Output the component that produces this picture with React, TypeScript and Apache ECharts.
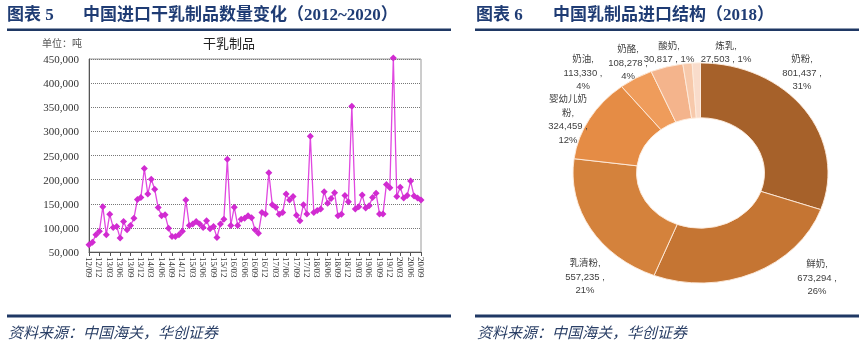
import React, { useEffect, useRef } from 'react';
import * as echarts from 'echarts';

// ---------- Data: left chart (monthly imports of dry dairy products, tonnes) ----------
const months = [
  '12/09', '12/10', '12/11', '12/12',
  '13/01', '13/02', '13/03', '13/04', '13/05', '13/06', '13/07', '13/08', '13/09', '13/10', '13/11', '13/12',
  '14/01', '14/02', '14/03', '14/04', '14/05', '14/06', '14/07', '14/08', '14/09', '14/10', '14/11', '14/12',
  '15/01', '15/02', '15/03', '15/04', '15/05', '15/06', '15/07', '15/08', '15/09', '15/10', '15/11', '15/12',
  '16/01', '16/02', '16/03', '16/04', '16/05', '16/06', '16/07', '16/08', '16/09', '16/10', '16/11', '16/12',
  '17/01', '17/02', '17/03', '17/04', '17/05', '17/06', '17/07', '17/08', '17/09', '17/10', '17/11', '17/12',
  '18/01', '18/02', '18/03', '18/04', '18/05', '18/06', '18/07', '18/08', '18/09', '18/10', '18/11', '18/12',
  '19/01', '19/02', '19/03', '19/04', '19/05', '19/06', '19/07', '19/08', '19/09', '19/10', '19/11', '19/12',
  '20/01', '20/02', '20/03', '20/04', '20/05', '20/06', '20/07', '20/08', '20/09',
];

const dryDairyTonnes = [
  65000, 70000, 86000, 93000,
  144000, 86000, 128000, 101000, 103000, 79000, 113000, 96000, 105000, 120000, 159000, 163000,
  223000, 170000, 201000, 180000, 142000, 125000, 127000, 99000, 82000, 82000, 86000, 93000,
  158000, 105000, 108000, 113000, 108000, 101000, 115000, 98000, 103000, 80000, 108000, 118000,
  242000, 105000, 143000, 105000, 118000, 120000, 125000, 121000, 96000, 89000, 132000, 129000,
  214000, 148000, 143000, 128000, 132000, 170000, 158000, 165000, 126000, 115000, 148000, 129000,
  290000, 132000, 136000, 139000, 175000, 151000, 161000, 173000, 125000, 128000, 167000, 154000,
  352000, 139000, 144000, 168000, 141000, 146000, 163000, 172000, 129000, 129000, 190000, 183000,
  452000, 165000, 184000, 162000, 167000, 197000, 166000, 162000, 158000,
];

const yMin = 50000;
const yMax = 450000;
const yStep = 50000;

// ---------- Data: right chart (2018 dairy import structure) ----------
const pieNames = ['奶粉', '鲜奶', '乳清粉', '婴幼儿奶粉', '奶油', '奶酪', '酸奶', '炼乳'];
const pieValues = [801437, 673294, 557235, 324459, 113330, 108278, 30817, 27503];
const pieShares = [31, 26, 21, 12, 4, 4, 1, 1];

const pieColors = ['#A6612A', '#C57533', '#D4823C', '#E58C45', '#EF9C5B', '#F4B48C', '#F7C9AB', '#F9DCCB'];
// label block centres (layout only)
const pieLabelPos: [number, number][] = [
  [802, 72], [817, 277], [585, 276], [568, 119], [583, 72], [628, 62], [669, 52], [726, 52],
];

// the reference donut is drawn slightly squashed vertically
const PIE_SY = 0.863;
const PIE_CX = 700.5;
const PIE_CY = 173;

const CJK = '"Noto Sans CJK SC", sans-serif';
const LABEL_FONT = '"Liberation Sans Narrow", "Liberation Sans", "Noto Sans CJK SC", sans-serif';
const SERIF = '"Liberation Serif", "Noto Sans CJK SC", serif';
const NAVY = '#1F3864';

function fmt(n: number) {
  return n.toLocaleString('en-US');
}

function pieLabelText(i: number) {
  const v = fmt(pieValues[i]);
  const s = pieShares[i];
  if (i === 3) return `婴幼儿奶\n粉,\n${v} ,\n${s}%`;
  if (i >= 6) return `${pieNames[i]},\n${v} , ${s}%`;
  return `${pieNames[i]},\n${v} ,\n${s}%`;
}

export default function App() {
  const ref = useRef<HTMLDivElement>(null);
  const pieRef = useRef<HTMLDivElement>(null);

  useEffect(() => {
    if (!ref.current || !pieRef.current) return;
    const chart = echarts.init(ref.current, undefined, { renderer: 'svg' });
    const pie = echarts.init(pieRef.current, undefined, { renderer: 'svg' });

    pie.setOption({
      animation: false,
      series: [
        {
          type: 'pie',
          center: [PIE_CX, PIE_CY / PIE_SY],
          radius: [64, 127.5],
          startAngle: 90,
          clockwise: true,
          itemStyle: { borderColor: '#FDEBDC', borderWidth: 1 },
          emphasis: { disabled: true },
          label: { show: false },
          labelLine: { show: false },
          data: pieNames.map((n, i) => ({
            name: n,
            value: pieValues[i],
            itemStyle: { color: pieColors[i] },
          })),
        },
      ],
    });

    const labelGraphics = pieNames.map((_, i) => ({
      type: 'text',
      x: pieLabelPos[i][0],
      y: pieLabelPos[i][1],
      style: {
        text: pieLabelText(i),
        fontSize: 9.5,
        lineHeight: 13.5,
        fontFamily: LABEL_FONT,
        fill: '#404040',
        align: 'center',
        verticalAlign: 'middle',
      },
    }));

    const option: any = {
      animation: false,
      backgroundColor: 'transparent',
      grid: {
        left: 89,
        right: 859 - 421,
        top: 59,
        bottom: 352 - 252,
        show: true,
        borderColor: '#9a9a9a',
        borderWidth: 1,
      },
      xAxis: {
        type: 'category',
        data: months,
        boundaryGap: false,
        axisLine: { lineStyle: { color: '#555' } },
        axisTick: { interval: 2, length: 4, lineStyle: { color: '#555' } },
        axisLabel: {
          interval: 2,
          rotate: -90,
          fontSize: 9,
          fontFamily: SERIF,
          color: '#333',
          margin: 5,
        },
      },
      yAxis: {
        type: 'value',
        min: yMin,
        max: yMax,
        interval: yStep,
        axisLine: { show: true, lineStyle: { color: '#555' } },
        axisTick: { show: false },
        splitLine: { lineStyle: { type: 'dotted', color: '#777', width: 1 } },
        axisLabel: {
          formatter: (v: number) => fmt(v),
          fontSize: 11,
          fontFamily: SERIF,
          color: '#333',
          margin: 10,
        },
      },
      series: [
        {
          type: 'line',
          data: dryDairyTonnes,
          clip: false,
          symbol: 'diamond',
          symbolSize: 7,
          showAllSymbol: true,
          itemStyle: { color: '#D12BD1' },
          lineStyle: { color: '#E048E0', width: 1.3 },
        },
      ],
      graphic: [
        // left header
        {
          type: 'text', left: 7, top: 6,
          style: { text: '图表 5', fontSize: 17, fontWeight: 'bold', fontFamily: SERIF, fill: '#1F3C74' },
        },
        {
          type: 'text', left: 83, top: 6,
          style: { text: '中国进口干乳制品数量变化（2012~2020）', fontSize: 17, fontWeight: 'bold', fontFamily: SERIF, fill: '#1F3C74' },
        },
        { type: 'rect', shape: { x: 7, y: 28.5, width: 444, height: 2.5 }, style: { fill: NAVY } },
        // right header
        {
          type: 'text', left: 476, top: 6,
          style: { text: '图表 6', fontSize: 17, fontWeight: 'bold', fontFamily: SERIF, fill: '#1F3C74' },
        },
        {
          type: 'text', left: 553, top: 6,
          style: { text: '中国乳制品进口结构（2018）', fontSize: 17, fontWeight: 'bold', fontFamily: SERIF, fill: '#1F3C74' },
        },
        { type: 'rect', shape: { x: 475, y: 28.5, width: 384, height: 2.5 }, style: { fill: NAVY } },
        // left chart inner titles
        {
          type: 'text', x: 42, y: 42,
          style: { text: '单位：吨', fontSize: 10, fontFamily: CJK, fill: '#555', verticalAlign: 'middle' },
        },
        {
          type: 'text', x: 229, y: 42,
          style: { text: '干乳制品', fontSize: 13, fontFamily: CJK, fill: '#222', align: 'center', verticalAlign: 'middle' },
        },
        ...labelGraphics,
        // footers
        { type: 'rect', shape: { x: 7, y: 314.5, width: 444, height: 3 }, style: { fill: NAVY } },
        { type: 'rect', shape: { x: 475, y: 314.5, width: 384, height: 3 }, style: { fill: NAVY } },
        {
          type: 'text', x: 8, y: 331,
          style: { text: '资料来源：中国海关，华创证券', fontSize: 15, fontStyle: 'italic', fontFamily: CJK, fill: '#2A3F66', verticalAlign: 'middle' },
        },
        {
          type: 'text', x: 477, y: 331,
          style: { text: '资料来源：中国海关，华创证券', fontSize: 15, fontStyle: 'italic', fontFamily: CJK, fill: '#2A3F66', verticalAlign: 'middle' },
        },
      ],
    };

    chart.setOption(option);
    return () => {
      chart.dispose();
      pie.dispose();
    };
  }, []);

  return (
    <>
      <div
        ref={pieRef}
        style={{
          position: 'fixed', left: 0, top: 0, width: 859, height: Math.round(352 / PIE_SY),
          transform: `scaleY(${PIE_SY})`, transformOrigin: '0 0',
        }}
      />
      <div
        ref={ref}
        style={{ position: 'fixed', left: 0, top: 0, width: 859, height: 352 }}
      />
    </>
  );
}
